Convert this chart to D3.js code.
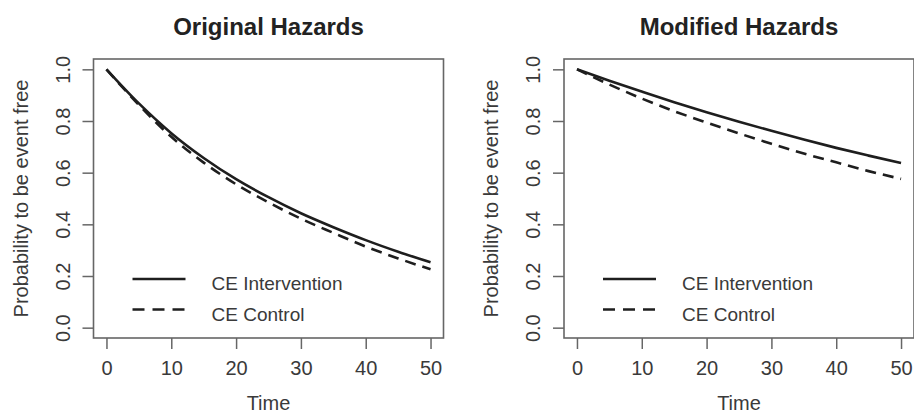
<!DOCTYPE html>
<html>
<head>
<meta charset="utf-8">
<script src="https://cdn.jsdelivr.net/npm/d3@7"></script>
<style>
    body { margin: 0; background: white; }
    svg text { font-family: "Liberation Sans", Arial, sans-serif; }
</style>
</head>
<body>
<div id="chart"></div>
<script>
// time points (x axis) and survival values
var times = [0, 5, 10, 15, 20, 25, 30, 35, 40, 45, 50];

var originalIntervention = [1.0, 0.868, 0.753, 0.657, 0.575, 0.505, 0.443, 0.389, 0.339, 0.294, 0.253];
var originalControl      = [1.0, 0.862, 0.739, 0.639, 0.555, 0.485, 0.422, 0.367, 0.314, 0.268, 0.226];

var modifiedIntervention = [1.0, 0.956, 0.914, 0.873, 0.834, 0.797, 0.762, 0.728, 0.696, 0.666, 0.637];
var modifiedControl      = [1.0, 0.941, 0.887, 0.838, 0.794, 0.752, 0.712, 0.674, 0.640, 0.606, 0.576];

var xTicks = [0, 10, 20, 30, 40, 50];
var yTicks = [0.0, 0.2, 0.4, 0.6, 0.8, 1.0];
var legendLabels = ["CE Intervention", "CE Control"];
var panelTitles = ["Original Hazards", "Modified Hazards"];

var svg = d3.select("#chart").append("svg")
    .attr("width", 914)
    .attr("height", 413);

function HazardPanel(svg, left, title, intervention, control) {
    var self = this;
    self.svg = svg;
    self.left = left;
    self.title = title;
    self.series = [intervention, control];
    self.init();
}

HazardPanel.prototype.init = function () {
    var self = this;
    self.width = 350;
    self.top = 59;
    self.bottom = 338;

    // R style: axes stretch 4% past the data range
    self.xScale = d3.scaleLinear().domain([-2, 52])
        .range([self.left, self.left + self.width]);
    self.yScale = d3.scaleLinear().domain([-0.04, 1.04])
        .range([self.bottom, self.top]);

    self.g = self.svg.append("g");
};

HazardPanel.prototype.draw = function () {
    var self = this;
    var g = self.g;
    var cx = self.left + self.width / 2;

    g.append("text")
        .attr("x", cx)
        .attr("y", 35)
        .attr("text-anchor", "middle")
        .attr("font-size", 24)
        .attr("font-weight", "bold")
        .attr("fill", "#222")
        .text(self.title);

    // x axis, ticks outward
    var xAxis = d3.axisBottom(self.xScale).tickValues(xTicks).tickSize(11).tickFormat(d3.format("d"));
    var xg = g.append("g").attr("transform", "translate(0," + self.bottom + ")").call(xAxis);
    xg.select(".domain").remove();
    xg.selectAll("line").attr("stroke", "#666").attr("stroke-width", 1.5);
    xg.selectAll("text")
        .attr("y", 37)
        .attr("dy", null)
        .attr("font-size", 20)
        .attr("font-family", null)
        .attr("fill", "#3a3a3a");

    var yAxis = d3.axisLeft(self.yScale).tickValues(yTicks).tickSize(11).tickFormat(d3.format(".1f"));
    var yg = g.append("g").attr("transform", "translate(" + self.left + ",0)").call(yAxis);
    yg.select(".domain").remove();
    yg.selectAll("line").attr("stroke", "#666").attr("stroke-width", 1.5);
    yg.selectAll("text")
        .attr("x", null)
        .attr("dy", null)
        .attr("text-anchor", "middle")
        .attr("transform", "translate(-24,0) rotate(-90)")
        .attr("font-size", 20)
        .attr("font-family", null)
        .attr("fill", "#3a3a3a");

    g.append("text")
        .attr("transform", "translate(" + (self.left - 66) + "," + ((self.top + self.bottom) / 2) + ") rotate(-90)")
        .attr("text-anchor", "middle")
        .attr("font-size", 20)
        .attr("fill", "#3a3a3a")
        .text("Probability to be event free");

    g.append("text")
        .attr("x", cx)
        .attr("y", 410)
        .attr("text-anchor", "middle")
        .attr("font-size", 20)
        .attr("fill", "#3a3a3a")
        .text("Time");

    var line = d3.line()
        .x(function (d) { return self.xScale(d[0]); })
        .y(function (d) { return self.yScale(d[1]); })
        .curve(d3.curveMonotoneX);

    var dashes = [null, "11,7"];

    self.series.forEach(function (values, i) {
        var pts = times.map(function (t, j) { return [t, values[j]]; });
        g.append("path")
            .datum(pts)
            .attr("d", line)
            .attr("fill", "none")
            .attr("stroke", "#1e1e1e")
            .attr("stroke-width", 2.6)
            .attr("stroke-dasharray", dashes[i]);
    });

    // legend
    var legendY = [279, 309.5];
    legendLabels.forEach(function (label, i) {
        g.append("line")
            .attr("x1", self.left + 39)
            .attr("x2", self.left + 92)
            .attr("y1", legendY[i])
            .attr("y2", legendY[i])
            .attr("stroke", "#1e1e1e")
            .attr("stroke-width", 2.6)
            .attr("stroke-dasharray", dashes[i] ? "12,8" : null);
        g.append("text")
            .attr("x", self.left + 118)
            .attr("y", legendY[i] + 11)
            .attr("font-size", 19)
            .attr("fill", "#3a3a3a")
            .text(label);
    });

    // plot box
    g.append("rect")
        .attr("x", self.left)
        .attr("y", self.top)
        .attr("width", self.width)
        .attr("height", self.bottom - self.top)
        .attr("fill", "none")
        .attr("stroke", "#666")
        .attr("stroke-width", 1.6);
};

var left = new HazardPanel(svg, 93.5, panelTitles[0], originalIntervention, originalControl);
left.draw();
var right = new HazardPanel(svg, 564, panelTitles[1], modifiedIntervention, modifiedControl);
right.draw();
</script>
</body>
</html>
